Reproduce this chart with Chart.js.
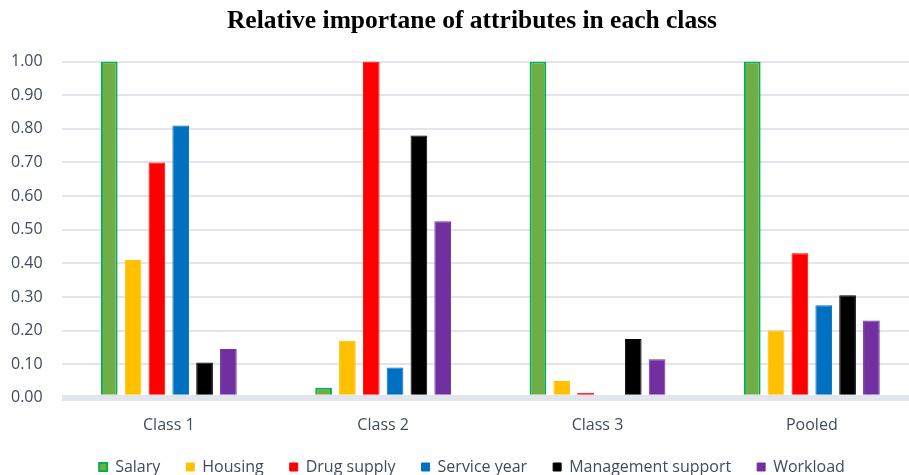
<!DOCTYPE html>
<html>
<head>
<meta charset="utf-8">
<script src="https://cdn.jsdelivr.net/npm/chart.js@4.4.0/dist/chart.umd.min.js"></script>
<style>
    html, body { margin: 0; padding: 0; background: #fff; overflow: hidden; }
    #wrap { position: absolute; left: -8px; top: 0; width: 960px; height: 475px; }
</style>
</head>
<body>
<div id="wrap"><canvas id="importanceChart"></canvas></div>
<script>
// --- Data ---
const classLabels = ['Class 1', 'Class 2', 'Class 3', 'Pooled'];
const salary = [1.00, 0.03, 1.00, 1.00];
const housing = [0.41, 0.17, 0.05, 0.20];
const drugSupply = [0.70, 1.00, 0.015, 0.43];
const serviceYear = [0.81, 0.09, 0.00, 0.275];
const managementSupport = [0.105, 0.78, 0.175, 0.305];
const workload = [0.145, 0.525, 0.115, 0.23];

const fontFace = "'Open Sans', 'Liberation Sans', sans-serif";
const textColor = '#404b5c';

function barSet(label, data, fill, border, bw) {
    return {
        label: label,
        data: data,
        backgroundColor: fill,
        borderColor: border,
        borderWidth: bw,
        barPercentage: 0.7,
        categoryPercentage: 0.667
    };
}

new Chart(document.getElementById('importanceChart'), {
    type: 'bar',
    data: {
        labels: classLabels,
        datasets: [
            barSet('Salary', salary, '#70ad47', '#00b050', 2),
            barSet('Housing', housing, '#ffc000', '#ffc000', 1),
            barSet('Drug supply', drugSupply, '#ff0000', '#ff0000', 1),
            barSet('Service year', serviceYear, '#0070c0', '#0070c0', 1),
            barSet('Management support', managementSupport, '#000000', '#000000', 1),
            barSet('Workload', workload, '#7030a0', '#7030a0', 1)
        ]
    },
    options: {
        responsive: true,
        maintainAspectRatio: false,
        animation: false,
        layout: { padding: { left: 0, right: 0, top: 0, bottom: -10 } },
        plugins: {
            title: {
                display: true,
                text: 'Relative importane of attributes in each class',
                color: '#000',
                font: { family: "'Liberation Serif', 'Times New Roman', serif", size: 25.5, weight: 'bold' },
                padding: { top: 6, bottom: 25 }
            },
            legend: {
                position: 'bottom',
                labels: {
                    color: textColor,
                    font: { family: fontFace, size: 16 },
                    boxWidth: 8,
                    boxHeight: 8,
                    padding: 26
                }
            },
            tooltip: { enabled: false }
        },
        scales: {
            x: {
                grid: { display: false },
                border: { display: false },
                ticks: { color: textColor, font: { family: fontFace, size: 16 }, padding: 10 },
                afterFit: (scale) => { scale.height -= 12; }
            },
            y: {
                min: 0,
                max: 1,
                border: { display: false },
                grid: {
                    drawTicks: false,
                    color: '#e2e5eb',
                    lineWidth: (ctx) => ctx.tick && ctx.tick.value === 0 ? 6 : 2
                },
                ticks: {
                    stepSize: 0.1,
                    color: textColor,
                    font: { family: fontFace, size: 16 },
                    padding: 19,
                    callback: (value) => Number(value).toFixed(2)
                }
            },
            // empty right axis, only keeps space so the plot runs past the right edge like the original crop
            yRight: {
                type: 'linear',
                position: 'right',
                grid: { display: false },
                border: { display: false },
                ticks: { display: false },
                afterFit: (scale) => { scale.width = 33; }
            }
        }
    }
});
</script>
</body>
</html>
